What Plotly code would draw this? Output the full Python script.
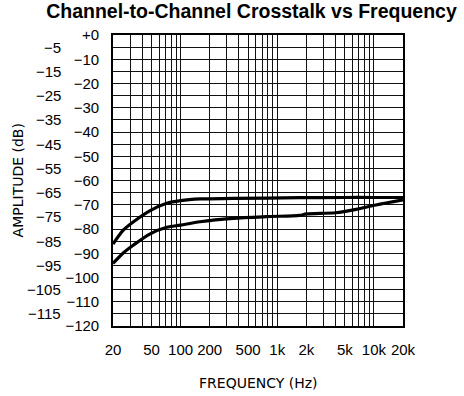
import plotly.graph_objects as go

# Crosstalk curves (frequency in Hz, amplitude in dB)
freq_upper = [20, 25.7, 32.6, 48.5, 72, 100, 159, 350, 1700, 5000, 10000, 20000]
amp_upper = [-86.2, -80.4, -77.0, -72.4, -69.4, -68.3, -67.6, -67.4, -67.1, -67.0, -67.0, -67.0]

freq_lower = [20, 25.7, 32.6, 48.5, 72, 100, 159, 350, 774, 1700, 2000, 4000, 6550, 10500, 20000]
amp_lower = [-94.2, -89.8, -86.6, -82.0, -79.3, -78.4, -77.0, -75.6, -74.9, -74.4, -73.8, -73.3, -71.9, -70.1, -68.0]

# Axis labelling
x_tick_vals = [20, 50, 100, 200, 500, 1000, 2000, 5000, 10000, 20000]
x_tick_text = ["20", "50", "100", "200", "500", "1k", "2k", "5k", "10k", "20k"]
x_grid_vals = ([20, 30, 40, 50, 60, 70, 80, 90, 100]
               + [200, 300, 400, 500, 600, 700, 800, 900, 1000]
               + [2000, 3000, 4000, 5000, 6000, 7000, 8000, 9000, 10000, 20000])
y_tick_vals = [0, -10, -20, -30, -40, -50, -60, -70, -80, -90, -100, -110, -120]
y_tick_text = ["+0"] + ["\u2212" + str(-v) for v in y_tick_vals[1:]]
y_offset_vals = [-5, -15, -25, -35, -45, -55, -65, -75, -85, -95, -105, -115]

tick_font = dict(family="Liberation Sans", size=15, color="black")
label_font = dict(family="DejaVu Sans", size=14, color="black")

fig = go.Figure()
for fx, fy in [(freq_upper, amp_upper), (freq_lower, amp_lower)]:
    fig.add_trace(go.Scatter(x=fx, y=fy, mode="lines",
                             line=dict(color="black", width=3.2, shape="spline", smoothing=0.8),
                             showlegend=False, hoverinfo="skip"))

# Interleaved -5, -15, ... labels in a second column left of the axis
for v in y_offset_vals:
    fig.add_annotation(xref="paper", yref="y", x=0, y=v, xanchor="right", yanchor="middle",
                       xshift=-50, text="\u2212" + str(-v), showarrow=False, font=tick_font)

# Axis titles
fig.add_annotation(xref="paper", yref="paper", x=-0.328, y=0.5, xanchor="center", yanchor="middle",
                   textangle=-90, text="AMPLITUDE (dB)", showarrow=False, font=label_font)
fig.add_annotation(xref="paper", yref="paper", x=0.5, y=-0.196, xanchor="center", yanchor="middle",
                   text="FREQUENCY (Hz)", showarrow=False, font=label_font)

fig.update_layout(
    width=464, height=396,
    margin=dict(l=113, r=61, t=35, b=70),
    paper_bgcolor="white", plot_bgcolor="white",
    title=dict(text="<b>Channel-to-Channel Crosstalk vs Frequency</b>", x=0.542, xanchor="center",
               y=0.99, yanchor="top",
               font=dict(family="Liberation Sans", size=19.5, color="black")),
    xaxis=dict(type="log", range=[1.30103, 4.30103], automargin=False,
               tickmode="array", tickvals=x_tick_vals, ticktext=x_tick_text,
               showgrid=False, ticks="", ticklabelstandoff=9,
               tickfont=tick_font,
               showline=True, mirror=True, linecolor="black", linewidth=1.6,
               minor=dict(tickmode="array", tickvals=x_grid_vals, showgrid=True,
                          gridcolor="#111", gridwidth=1.3, ticks=""),
               zeroline=False),
    yaxis=dict(range=[-120, 0], automargin=False,
               tickmode="array", tickvals=y_tick_vals, ticktext=y_tick_text,
               showgrid=True, gridcolor="#111", gridwidth=1.3, ticks="", ticklabelstandoff=9,
               tickfont=tick_font,
               showline=True, mirror=True, linecolor="black", linewidth=1.6,
               minor=dict(dtick=5, tick0=0, showgrid=True, gridcolor="#111", gridwidth=1.3, ticks=""),
               zeroline=False),
)

fig.write_html("out.html")
